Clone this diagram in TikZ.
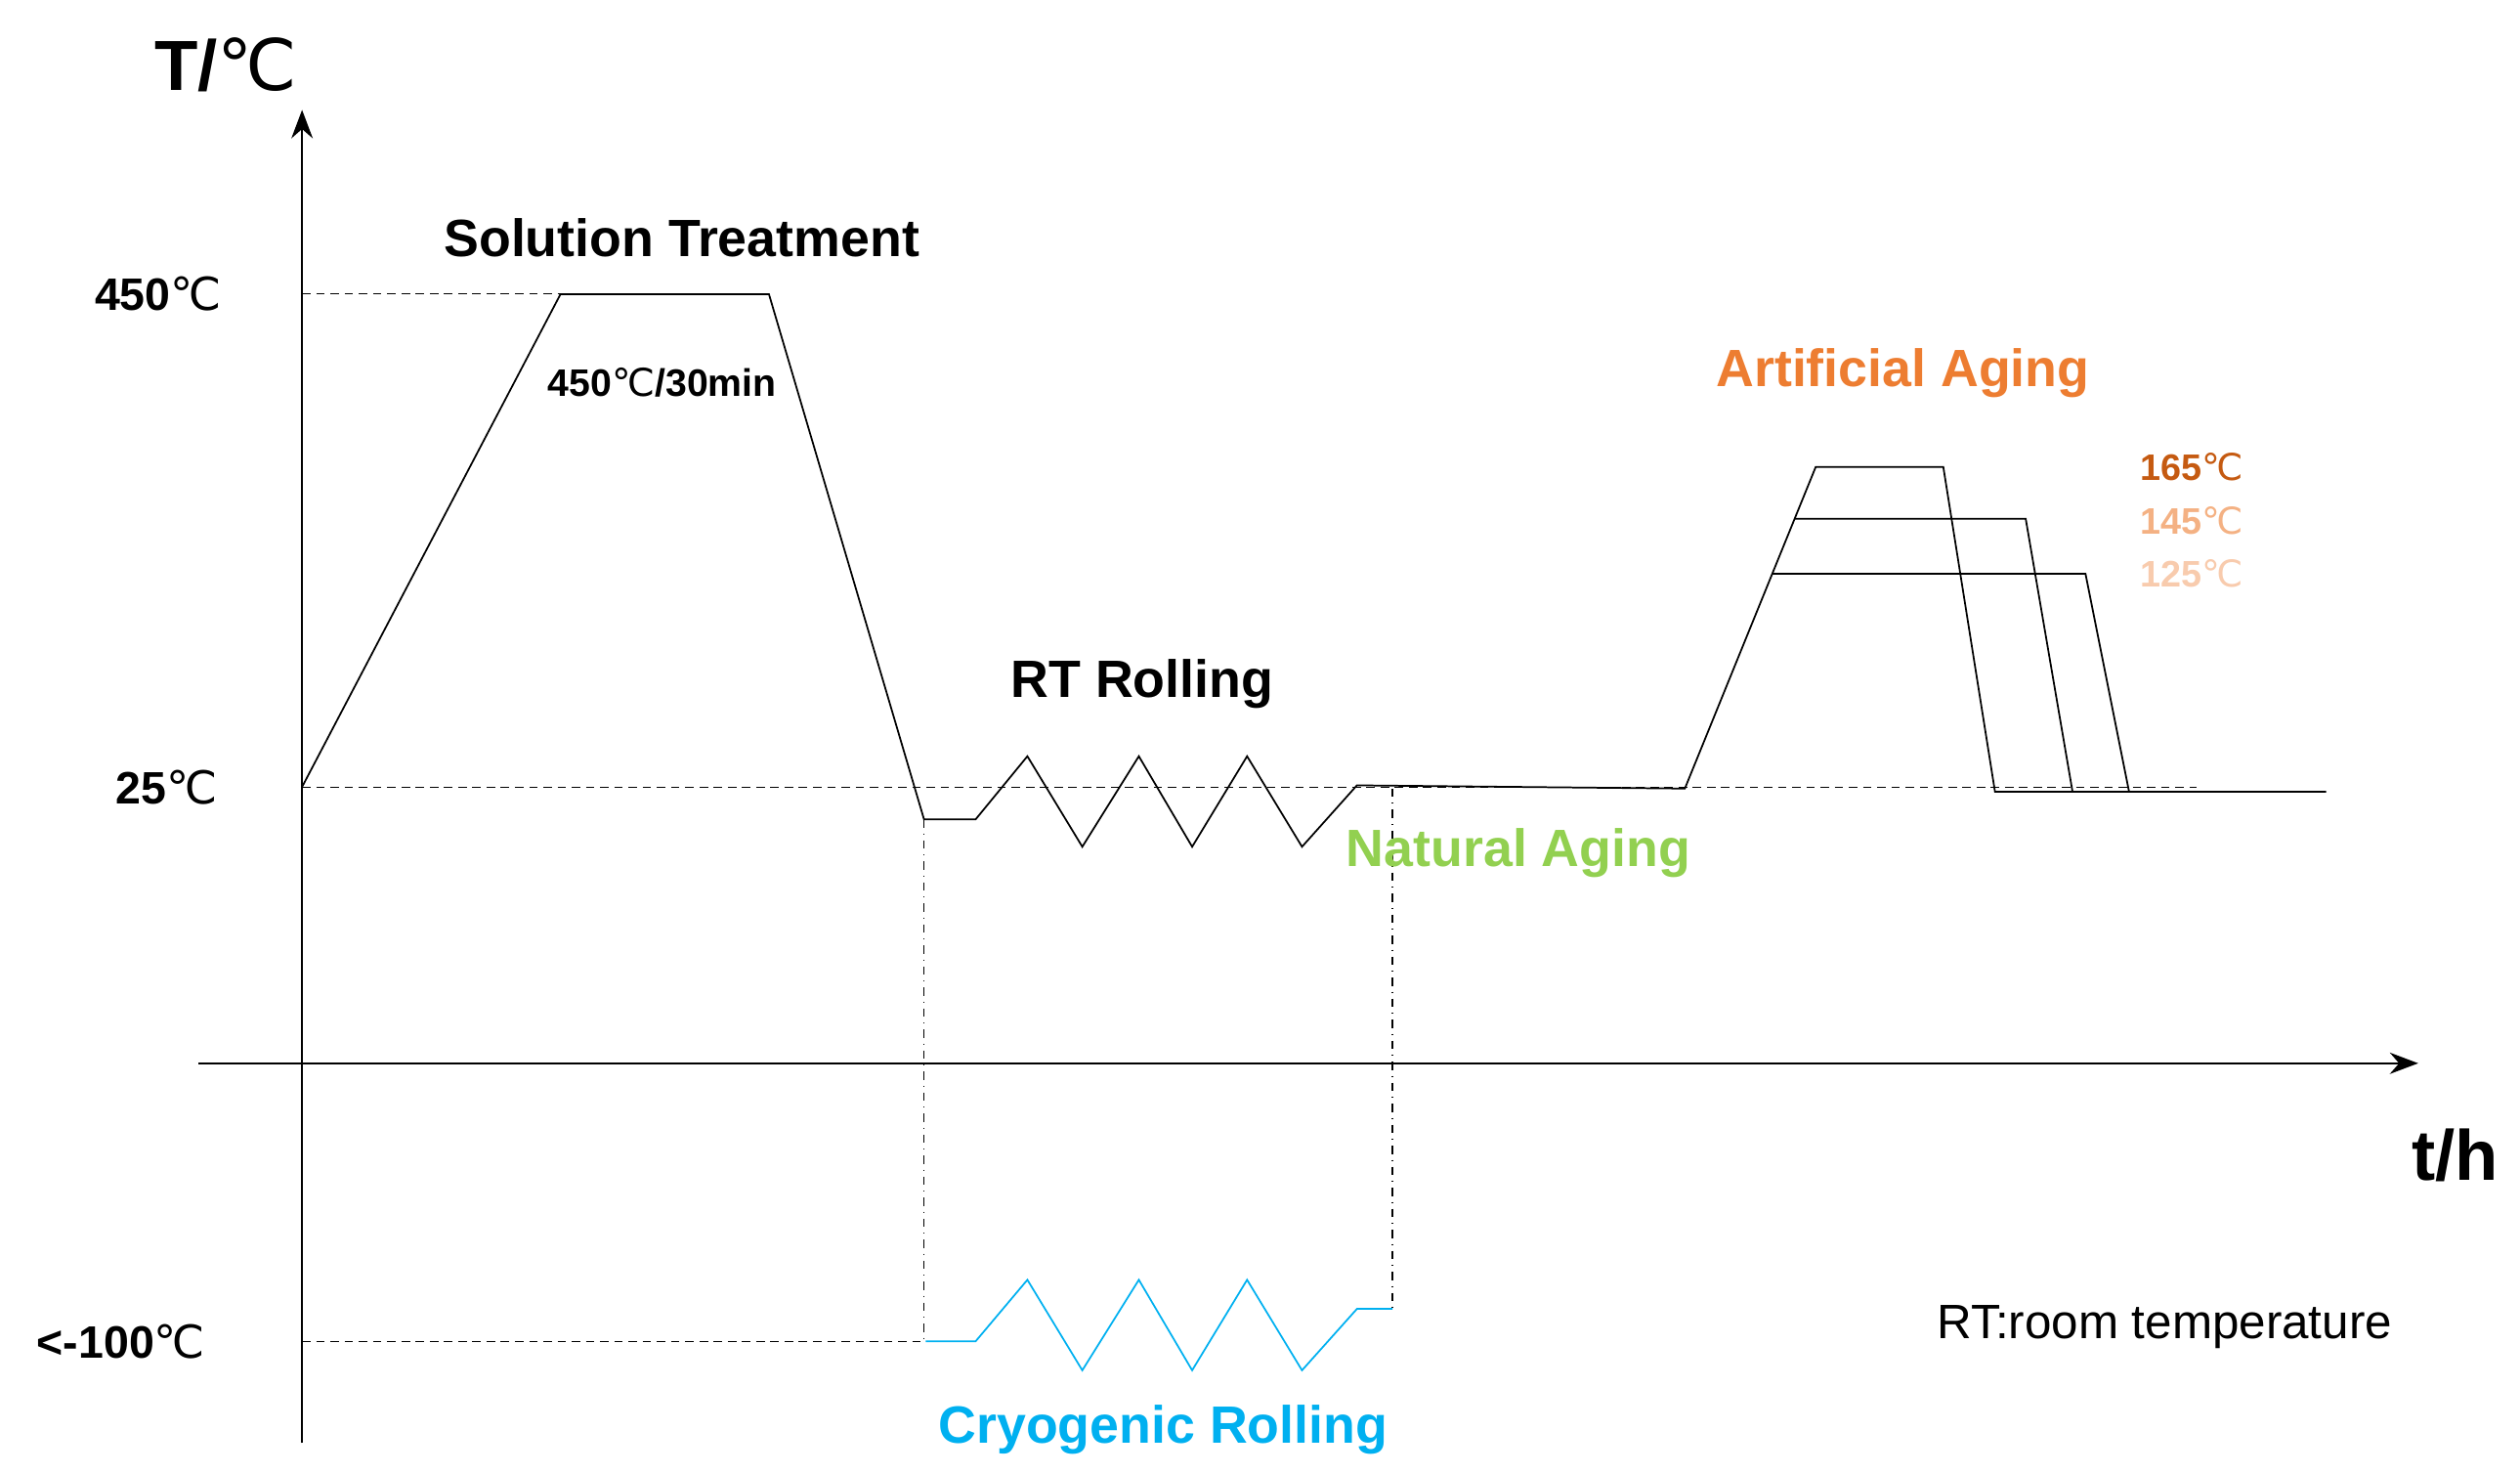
\documentclass[tikz,border=0pt]{standalone}
\usepackage{fontspec}
\setmainfont{Liberation Sans}
\newfontfamily\grau{DejaVu Sans}
\newcommand{\gc}{{\grau\mdseries ℃}}
\usetikzlibrary{arrows.meta}
\definecolor{natgreen}{RGB}{146,208,80}
\definecolor{artorange}{RGB}{237,125,49}
\definecolor{hot}{RGB}{197,90,17}
\definecolor{warm}{RGB}{244,177,131}
\definecolor{mild}{RGB}{248,203,173}
\definecolor{cryo}{RGB}{0,176,240}
\tikzset{
eixo/.style = {thick, -{Stealth[length=10pt]}},
guia/.style = {densely dashed, thin},
traco/.style = {thin, dash dot},
curva/.style = {semithick, line join=miter},
rot/.style = {font=\fontsize{18.5}{20}\selectfont\bfseries},
temp/.style = {font=\fontsize{16}{18}\selectfont\bfseries}
}
\begin{document}
\begin{tikzpicture}[x=0.02cm,y=-0.02cm]
        \useasboundingbox (0,0) rectangle (1560,912);

        % eixos
        \draw[eixo] (187,893) -- (187,68);
        \draw[eixo] (123,658) -- (1497,658);
        \node[font=\fontsize{25}{28}\selectfont\bfseries] (Teixo) at (140,40) {T/\gc};
        \node[font=\fontsize{25}{28}\selectfont\bfseries] (teixo) at (1520,715) {t/h};

        % linhas de referencia
        \draw[guia] (187,182) -- (347,182);
        \draw[guia] (187,487) -- (1360,487);
        \draw[guia] (187,830) -- (573,830);
        \node[temp] (T450) at (98,182) {450\gc};
        \node[temp] (T25) at (103,487) {25\gc};
        \node[temp] (T100) at (75,830) {<-100\gc};

        % tratamento de solucao e laminacao RT
        \draw[curva] (187,487) -- (347,182) -- (476,182) -- (572,507) -- (604,507)
            -- (636,468) -- (670,524) -- (705,468) -- (738,524) -- (772,468)
            -- (806,524) -- (840,486) -- (1043,488) -- (1124,289) -- (1203,289) -- (1235,490) -- (1440,490);
        \draw[curva] (1111,321) -- (1254,321) -- (1283,490);
        \draw[curva] (1097,355) -- (1291,355) -- (1318,490);

        % laminacao criogenica
        \draw[traco] (572,507) -- (572,830);
        \draw[traco] (862,488) -- (862,810);
        \draw[curva, cryo] (573,830) -- (604,830) -- (636,792) -- (670,848) -- (705,792)
            -- (738,848) -- (772,792) -- (806,848) -- (840,810) -- (862,810);

        % rotulos
        \node[rot] (solucao) at (422,147) {Solution Treatment};
        \node[font=\fontsize{13.5}{15}\selectfont\bfseries] (solucao2) at (410,237) {450\gc/30min};
        \node[rot] (rtrol) at (707,423) {RT Rolling};
        \node[rot, natgreen] (natural) at (940,528) {Natural Aging};
        \node[rot, artorange] (artificial) at (1178,231) {Artificial Aging};
        \node[temp, hot, font=\fontsize{13}{14}\selectfont\bfseries] (A165) at (1357,289) {165\gc};
        \node[temp, warm, font=\fontsize{13}{14}\selectfont\bfseries] (A145) at (1357,322) {145\gc};
        \node[temp, mild, font=\fontsize{13}{14}\selectfont\bfseries] (A125) at (1357,355) {125\gc};
        \node[font=\fontsize{17}{18}\selectfont] (nota) at (1340,821) {RT:room temperature};
        \node[rot, cryo] (cryo) at (720,885) {Cryogenic Rolling};
    \end{tikzpicture}
\end{document}
